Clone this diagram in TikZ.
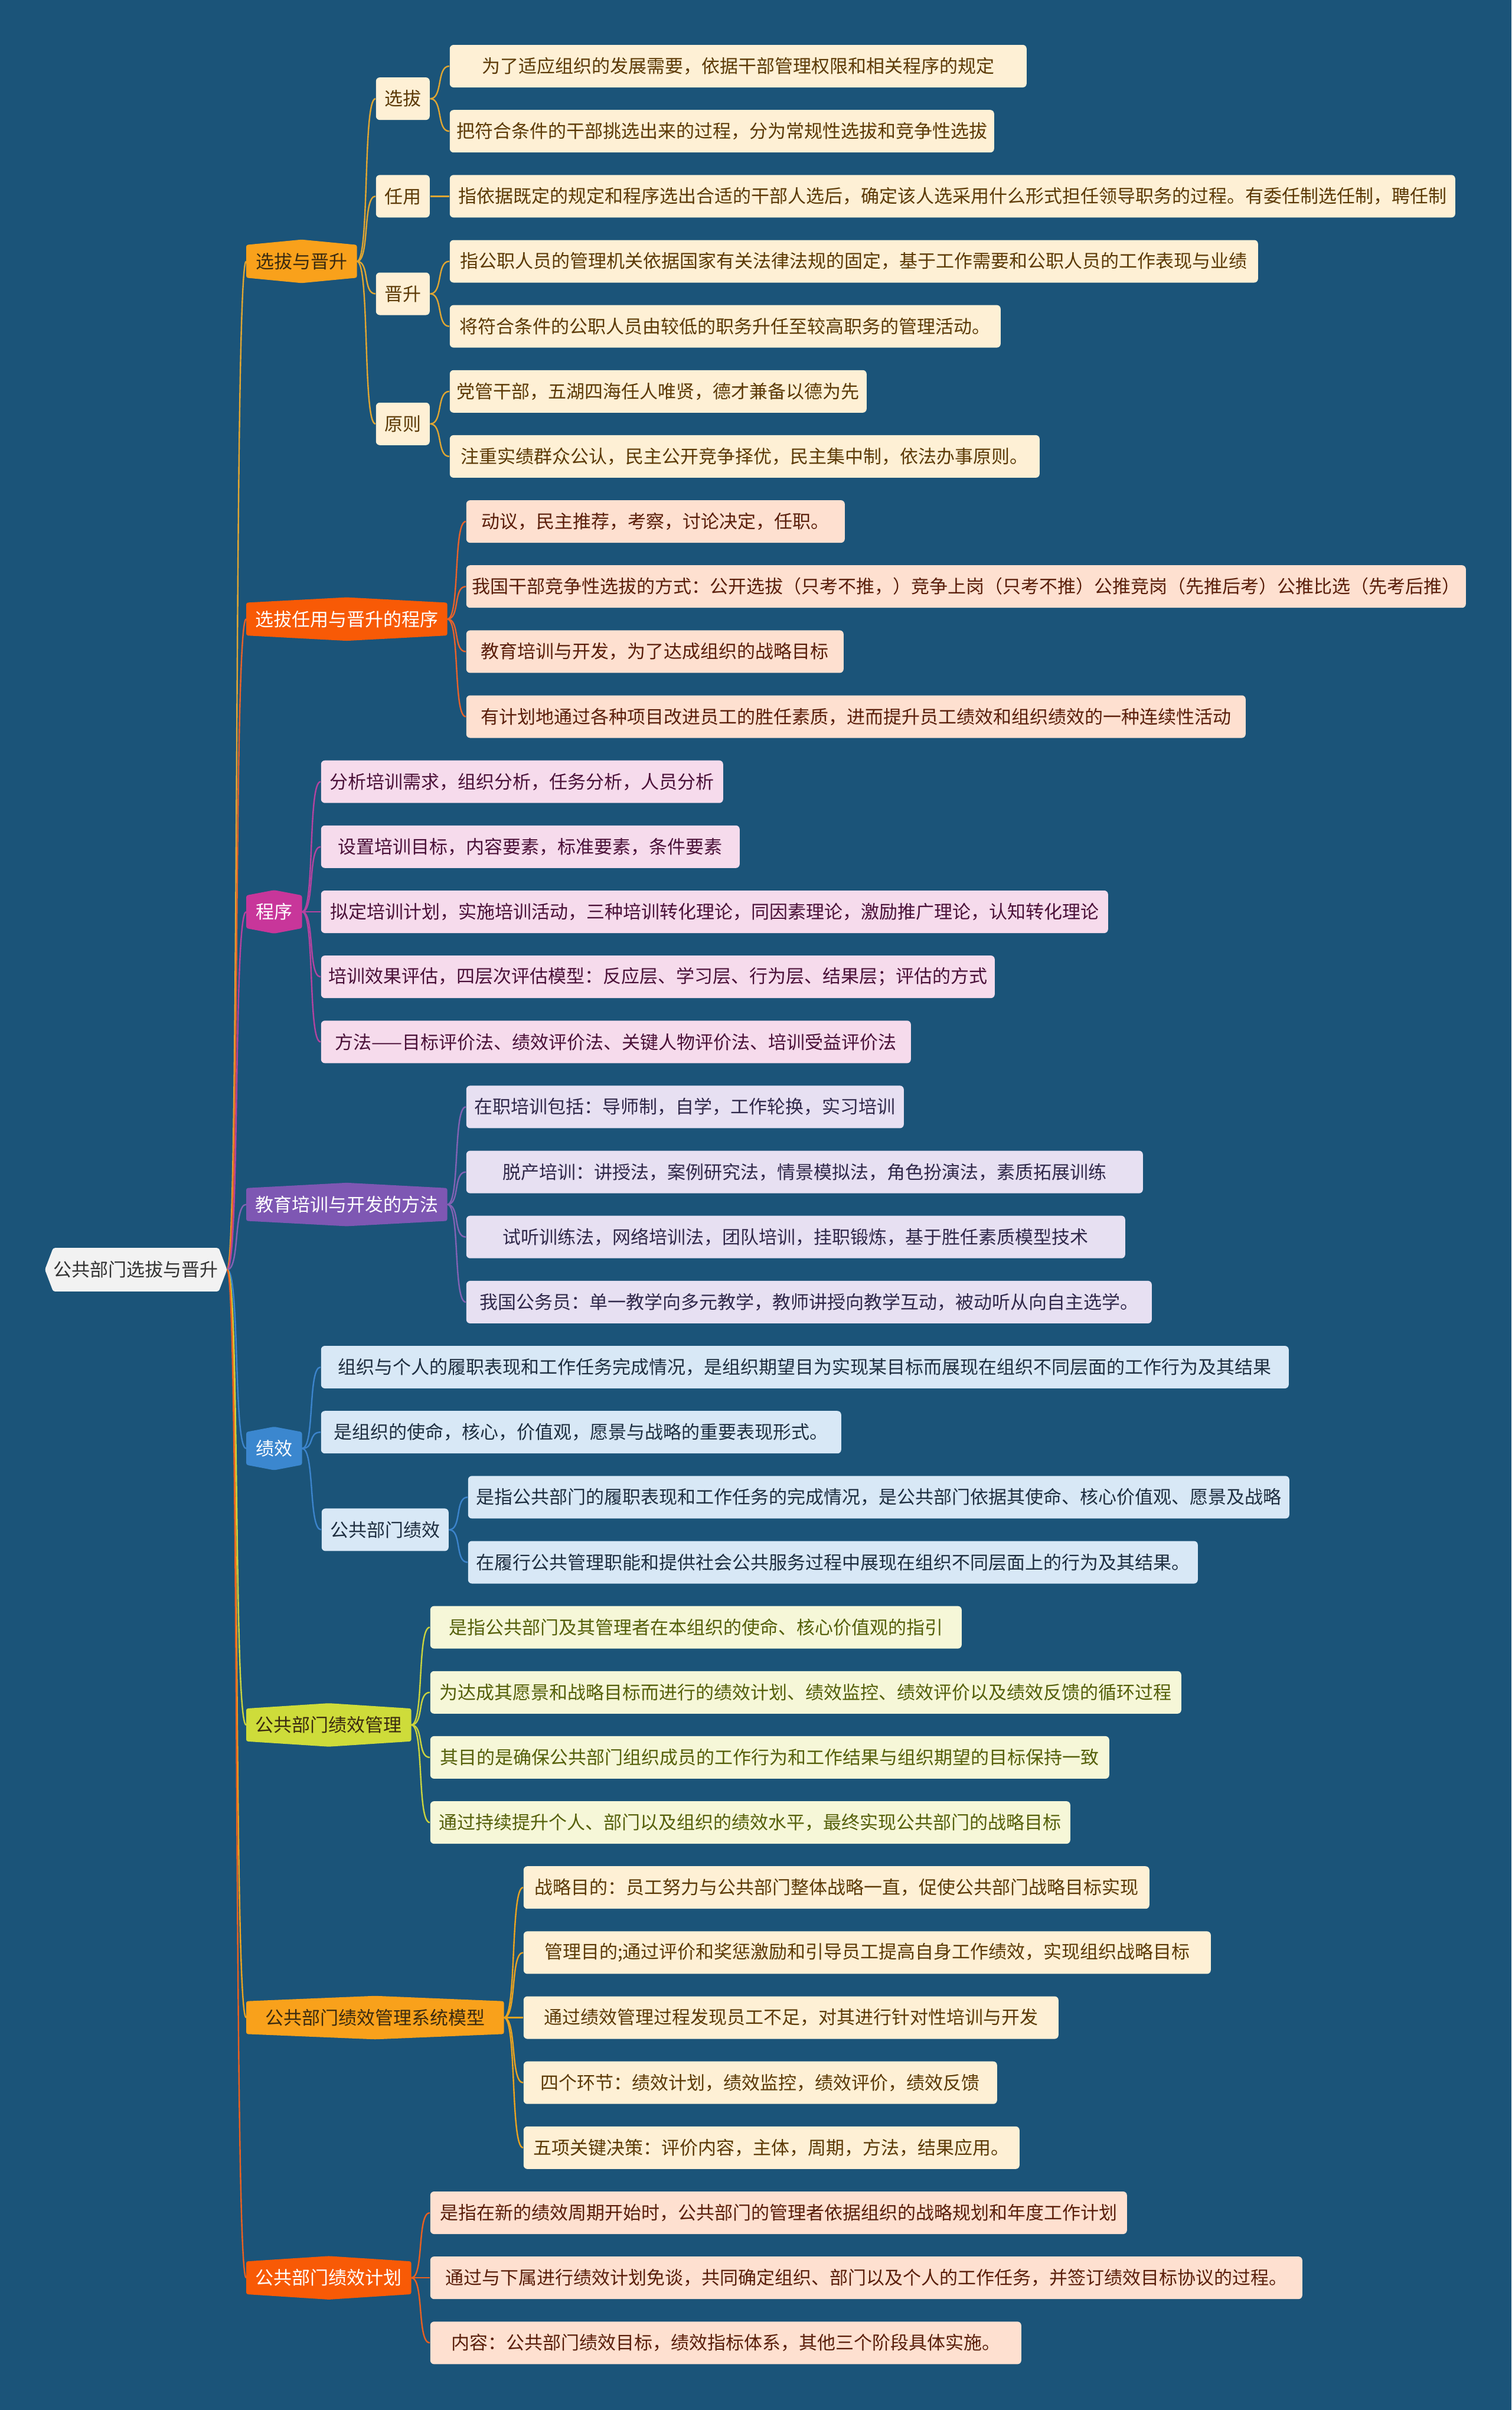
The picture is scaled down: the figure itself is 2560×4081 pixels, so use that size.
\documentclass[tikz,border=0pt]{standalone}
\usepackage{fontspec}
\newfontfamily\cjk{Noto Sans CJK SC}
\usetikzlibrary{calc}
\definecolor{bgc}{HTML}{1B5479}
\definecolor{rootfill}{HTML}{F2F2F2}
\definecolor{roottext}{HTML}{333333}
% branch fills / texts / lines
\definecolor{f1}{HTML}{FEF0D5}\definecolor{t1}{HTML}{5C3A06}\definecolor{k1}{HTML}{E0A632}
\definecolor{f2}{HTML}{FEE0D0}\definecolor{t2}{HTML}{5A1E0A}\definecolor{k2}{HTML}{E8622A}
\definecolor{f3}{HTML}{F6DBEC}\definecolor{t3}{HTML}{4A1038}\definecolor{k3}{HTML}{B443A0}
\definecolor{f4}{HTML}{E7E0F2}\definecolor{t4}{HTML}{30284A}\definecolor{k4}{HTML}{8262B4}
\definecolor{f5}{HTML}{D8E8F6}\definecolor{t5}{HTML}{1E2E40}\definecolor{k5}{HTML}{3C84CC}
\definecolor{f6}{HTML}{F6F7D8}\definecolor{t6}{HTML}{55600A}\definecolor{k6}{HTML}{CAD43E}
\definecolor{f7}{HTML}{FEF0D5}\definecolor{t7}{HTML}{5C3A06}\definecolor{k7}{HTML}{EAA320}
\definecolor{f8}{HTML}{FEE0D0}\definecolor{t8}{HTML}{5A1E0A}\definecolor{k8}{HTML}{EA6020}
% level-1 fills
\definecolor{h1}{HTML}{F9A11B}\definecolor{h2}{HTML}{F85A06}\definecolor{h3}{HTML}{C8369A}
\definecolor{h4}{HTML}{7E57B3}\definecolor{h5}{HTML}{3B87CF}\definecolor{h6}{HTML}{CEDC3A}
\definecolor{h7}{HTML}{F9A11B}\definecolor{h8}{HTML}{F85A06}
\definecolor{darktxt}{HTML}{3A2A10}

\pgfdeclarelayer{bglayer}\pgfdeclarelayer{connlayer}\pgfdeclarelayer{hexlayer}
\pgfsetlayers{bglayer,connlayer,hexlayer,main}

\tikzset{
  txt/.style={font=\cjk\fontsize{7.75pt}{9pt}\selectfont},
  leafbox/.style={txt, rounded corners=1.6pt, minimum height=18pt, inner sep=0pt, anchor=west},
  b1/.style={leafbox, fill=f1, text=t1},
  b2/.style={leafbox, fill=f2, text=t2},
  b3/.style={leafbox, fill=f3, text=t3},
  b4/.style={leafbox, fill=f4, text=t4},
  b5/.style={leafbox, fill=f5, text=t5},
  b6/.style={leafbox, fill=f6, text=t6},
  b7/.style={leafbox, fill=f7, text=t7},
  b8/.style={leafbox, fill=f8, text=t8},
  l1/.style={txt, minimum height=18pt, inner sep=0pt, anchor=west},
  c1/.style={draw=k1, line width=0.6pt},
  c2/.style={draw=k2, line width=0.6pt},
  c3/.style={draw=k3, line width=0.6pt},
  c4/.style={draw=k4, line width=0.6pt},
  c5/.style={draw=k5, line width=0.6pt},
  c6/.style={draw=k6, line width=0.6pt},
  c7/.style={draw=k7, line width=0.6pt},
  c8/.style={draw=k8, line width=0.6pt},
}

\newcommand\leafnode[6]{\node[#5, minimum width=#4*0.25pt] (#1) at (#2,#3) {#6};}
\newcommand\hexnode[7]{%
  \node[l1, minimum width=#4*0.25pt, text=#6] (#1) at (#2,#3) {#7};
  \begin{pgfonlayer}{hexlayer}
  \fill[#5, rounded corners=0.8pt] ($(#1.north west)+(0,9)$) -- (#1.north) -- ($(#1.north east)+(0,9)$) -- ($(#1.south east)+(0,-9)$) -- (#1.south) -- ($(#1.south west)+(0,-9)$) -- cycle;
  \end{pgfonlayer}}
\newcommand\link[3]{\draw[#1] (#2.east) .. controls +(22,0) and +(-22,0) .. (#3.west);}

\begin{document}
\begin{tikzpicture}[x=0.25pt,y=-0.25pt]
\begin{pgfonlayer}{bglayer}
\fill[bgc] (0,0) rectangle (2560,4081);
\end{pgfonlayer}
\useasboundingbox (0,0) rectangle (2560,4081);

% root
\node[l1, minimum width=307*0.25pt, text=roottext] (root) at (76,2150) {公共部门选拔与晋升};
\begin{pgfonlayer}{hexlayer}
\fill[rootfill, rounded corners=0.8pt] (root.west) -- ($(root.north west)+(14,0)$) -- ($(root.north east)+(-14,0)$) -- (root.east) -- ($(root.south east)+(-14,0)$) -- ($(root.south west)+(14,0)$) -- cycle;
\end{pgfonlayer}

% level 1
\hexnode{n1}{417}{442.5}{186}{h1}{darktxt}{选拔与晋升}
\hexnode{n2}{417}{1048.3}{339}{h2}{white}{选拔任用与晋升的程序}
\hexnode{n3}{417}{1544}{93}{h3}{white}{程序}
\hexnode{n4}{417}{2039.6}{339}{h4}{white}{教育培训与开发的方法}
\hexnode{n5}{417}{2452.7}{93}{h5}{white}{绩效}
\hexnode{n6}{417}{2920.9}{278}{h6}{darktxt}{公共部门绩效管理}
\hexnode{n7}{417}{3416.5}{435}{h7}{darktxt}{公共部门绩效管理系统模型}
\hexnode{n8}{417}{3857.1}{278}{h8}{white}{公共部门绩效计划}

% branch 1 sub nodes
\leafnode{s1}{636}{167.1}{91}{b1}{选拔}
\leafnode{s2}{636}{332.3}{91}{b1}{任用}
\leafnode{s3}{636}{497.5}{91}{b1}{晋升}
\leafnode{s4}{636}{717.8}{91}{b1}{原则}

% branch 1 leaves
\leafnode{a0}{761}{112}{977}{b1}{为了适应组织的发展需要，依据干部管理权限和相关程序的规定}
\leafnode{a1}{761}{222.2}{922}{b1}{把符合条件的干部挑选出来的过程，分为常规性选拔和竞争性选拔}
\leafnode{a2}{761}{332.3}{1703}{b1}{指依据既定的规定和程序选出合适的干部人选后，确定该人选采用什么形式担任领导职务的过程。有委任制选任制，聘任制}
\leafnode{a3}{761}{442.5}{1369}{b1}{指公职人员的管理机关依据国家有关法律法规的固定，基于工作需要和公职人员的工作表现与业绩}
\leafnode{a4}{761}{552.6}{933}{b1}{将符合条件的公职人员由较低的职务升任至较高职务的管理活动。}
\leafnode{a5}{761}{662.8}{706}{b1}{党管干部，五湖四海任人唯贤，德才兼备以德为先}
\leafnode{a6}{761}{772.9}{999}{b1}{注重实绩群众公认，民主公开竞争择优，民主集中制，依法办事原则。}

% branch 2
\leafnode{a7}{789}{883.1}{641}{b2}{动议，民主推荐，考察，讨论决定，任职。}
\leafnode{a8}{789}{993.2}{1693}{b2}{我国干部竞争性选拔的方式：公开选拔（只考不推，）竞争上岗（只考不推）公推竞岗（先推后考）公推比选（先考后推）}
\leafnode{a9}{789}{1103.4}{639}{b2}{教育培训与开发，为了达成组织的战略目标}
\leafnode{a10}{789}{1213.5}{1320}{b2}{有计划地通过各种项目改进员工的胜任素质，进而提升员工绩效和组织绩效的一种连续性活动}

% branch 3
\leafnode{a11}{543}{1323.7}{681}{b3}{分析培训需求，组织分析，任务分析，人员分析}
\leafnode{a12}{543}{1433.8}{709}{b3}{设置培训目标，内容要素，标准要素，条件要素}
\leafnode{a13}{543}{1544}{1333}{b3}{拟定培训计划，实施培训活动，三种培训转化理论，同因素理论，激励推广理论，认知转化理论}
\leafnode{a14}{543}{1654.1}{1141}{b3}{培训效果评估，四层次评估模型：反应层、学习层、行为层、结果层；评估的方式}
\leafnode{a15}{543}{1764.3}{999}{b3}{方法——目标评价法、绩效评价法、关键人物评价法、培训受益评价法}

% branch 4
\leafnode{a16}{789}{1874.4}{741}{b4}{在职培训包括：导师制，自学，工作轮换，实习培训}
\leafnode{a17}{789}{1984.6}{1146}{b4}{脱产培训：讲授法，案例研究法，情景模拟法，角色扮演法，素质拓展训练}
\leafnode{a18}{789}{2094.7}{1116}{b4}{试听训练法，网络培训法，团队培训，挂职锻炼，基于胜任素质模型技术}
\leafnode{a19}{789}{2204.9}{1161}{b4}{我国公务员：单一教学向多元教学，教师讲授向教学互动，被动听从向自主选学。}

% branch 5
\leafnode{a20}{543}{2315}{1639}{b5}{组织与个人的履职表现和工作任务完成情况，是组织期望目为实现某目标而展现在组织不同层面的工作行为及其结果}
\leafnode{a21}{543}{2425.2}{881}{b5}{是组织的使命，核心，价值观，愿景与战略的重要表现形式。}
\leafnode{s5}{544}{2590.4}{215}{b5}{公共部门绩效}
\leafnode{a22}{792}{2535.3}{1391}{b5}{是指公共部门的履职表现和工作任务的完成情况，是公共部门依据其使命、核心价值观、愿景及战略}
\leafnode{a23}{792}{2645.5}{1236}{b5}{在履行公共管理职能和提供社会公共服务过程中展现在组织不同层面上的行为及其结果。}

% branch 6
\leafnode{a24}{728}{2755.6}{900}{b6}{是指公共部门及其管理者在本组织的使命、核心价值观的指引}
\leafnode{a25}{728}{2865.8}{1272}{b6}{为达成其愿景和战略目标而进行的绩效计划、绩效监控、绩效评价以及绩效反馈的循环过程}
\leafnode{a26}{728}{2975.9}{1150}{b6}{其目的是确保公共部门组织成员的工作行为和工作结果与组织期望的目标保持一致}
\leafnode{a27}{728}{3086.1}{1084}{b6}{通过持续提升个人、部门以及组织的绩效水平，最终实现公共部门的战略目标}

% branch 7
\leafnode{a28}{886}{3196.2}{1060}{b7}{战略目的：员工努力与公共部门整体战略一直，促使公共部门战略目标实现}
\leafnode{a29}{886}{3306.4}{1164}{b7}{管理目的;通过评价和奖惩激励和引导员工提高自身工作绩效，实现组织战略目标}
\leafnode{a30}{886}{3416.5}{906}{b7}{通过绩效管理过程发现员工不足，对其进行针对性培训与开发}
\leafnode{a31}{886}{3526.7}{802}{b7}{四个环节：绩效计划，绩效监控，绩效评价，绩效反馈}
\leafnode{a32}{886}{3636.8}{840}{b7}{五项关键决策：评价内容，主体，周期，方法，结果应用。}

% branch 8
\leafnode{a33}{728}{3747}{1180}{b8}{是指在新的绩效周期开始时，公共部门的管理者依据组织的战略规划和年度工作计划}
\leafnode{a34}{728}{3857.1}{1477}{b8}{通过与下属进行绩效计划免谈，共同确定组织、部门以及个人的工作任务，并签订绩效目标协议的过程。}
\leafnode{a35}{728}{3967.3}{1001}{b8}{内容：公共部门绩效目标，绩效指标体系，其他三个阶段具体实施。}

% connectors
\begin{pgfonlayer}{connlayer}
\link{c1}{root}{n1}\link{c2}{root}{n2}\link{c3}{root}{n3}\link{c4}{root}{n4}
\link{c5}{root}{n5}\link{c6}{root}{n6}\link{c7}{root}{n7}\link{c8}{root}{n8}
\link{c1}{n1}{s1}\link{c1}{n1}{s2}\link{c1}{n1}{s3}\link{c1}{n1}{s4}
\link{c1}{s1}{a0}\link{c1}{s1}{a1}\link{c1}{s2}{a2}\link{c1}{s3}{a3}\link{c1}{s3}{a4}
\link{c1}{s4}{a5}\link{c1}{s4}{a6}
\link{c2}{n2}{a7}\link{c2}{n2}{a8}\link{c2}{n2}{a9}\link{c2}{n2}{a10}
\link{c3}{n3}{a11}\link{c3}{n3}{a12}\link{c3}{n3}{a13}\link{c3}{n3}{a14}\link{c3}{n3}{a15}
\link{c4}{n4}{a16}\link{c4}{n4}{a17}\link{c4}{n4}{a18}\link{c4}{n4}{a19}
\link{c5}{n5}{a20}\link{c5}{n5}{a21}\link{c5}{n5}{s5}\link{c5}{s5}{a22}\link{c5}{s5}{a23}
\link{c6}{n6}{a24}\link{c6}{n6}{a25}\link{c6}{n6}{a26}\link{c6}{n6}{a27}
\link{c7}{n7}{a28}\link{c7}{n7}{a29}\link{c7}{n7}{a30}\link{c7}{n7}{a31}\link{c7}{n7}{a32}
\link{c8}{n8}{a33}\link{c8}{n8}{a34}\link{c8}{n8}{a35}
\end{pgfonlayer}
\end{tikzpicture}
\end{document}
